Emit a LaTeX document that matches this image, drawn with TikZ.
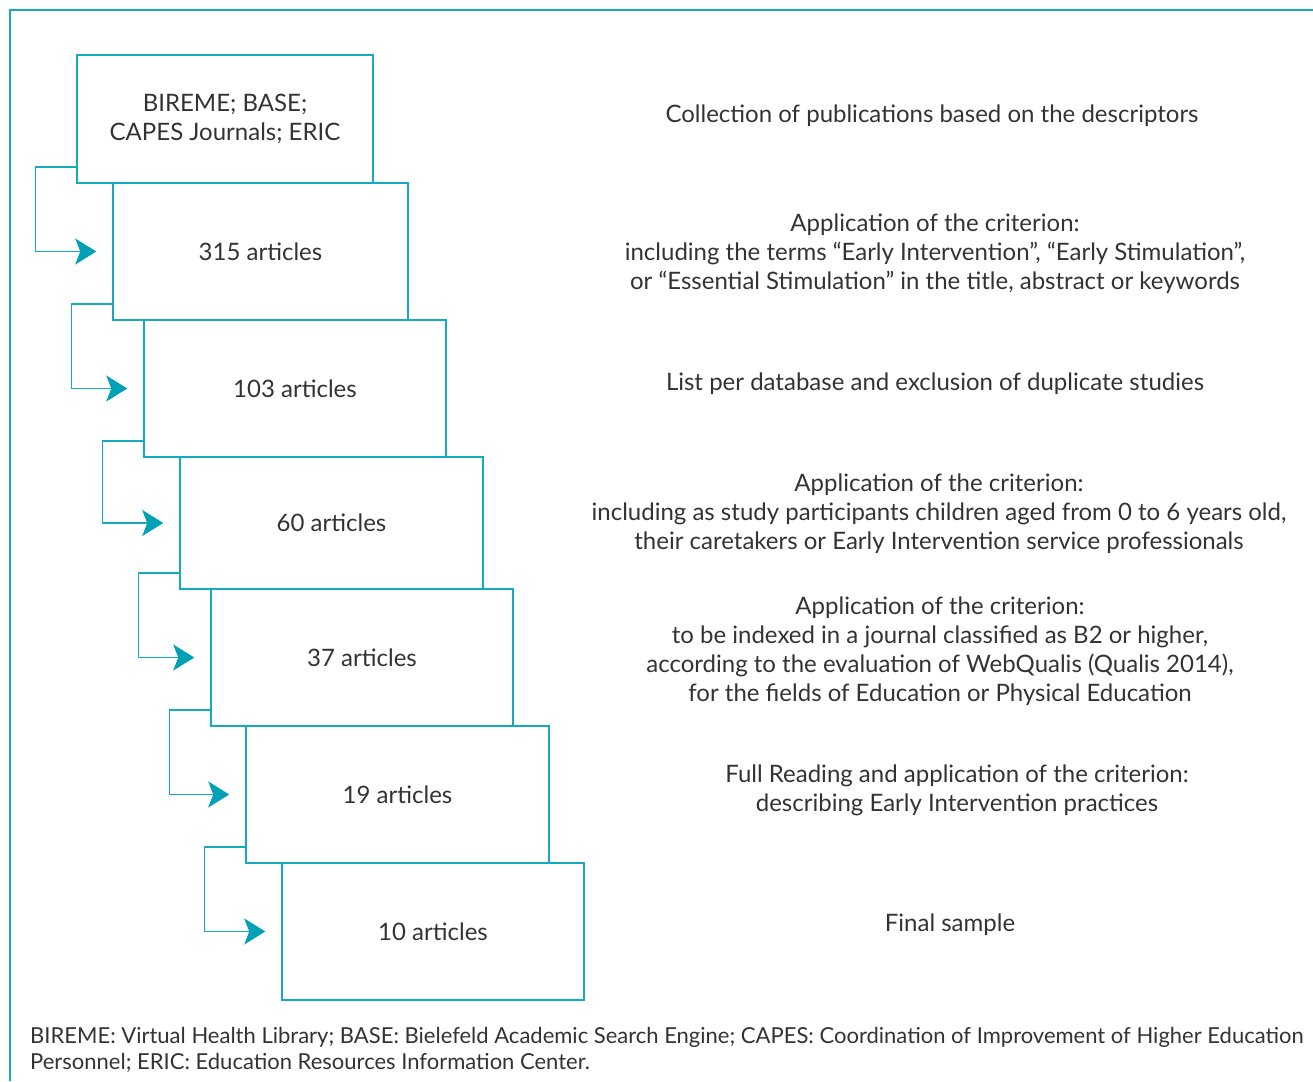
\documentclass[tikz,border=0pt]{standalone}
\usepackage{fontspec}
\setmainfont{Lato}
\usetikzlibrary{arrows.meta}
\definecolor{teal1}{RGB}{20,170,192}
\definecolor{teal2}{RGB}{0,160,182}
\definecolor{txt}{RGB}{51,51,51}
\begin{document}
\begin{tikzpicture}[x=1pt,y=1pt,
    box/.style={draw=teal1,line width=1.5pt,inner sep=0pt,text=txt,align=center,
        font=\fontsize{24}{29}\selectfont},
    note/.style={text=txt,align=center,font=\fontsize{24}{29}\selectfont},
    link/.style={draw=teal1,line width=1.5pt,
        -{Stealth[length=21pt,width=26pt,inset=5pt,fill=teal2,color=teal2]}}]
    \useasboundingbox (0,0) rectangle (1313,-1081);
    \draw[teal1,line width=2pt] (10,-1081) -- (10,-10) -- (1313,-10);
    % boxes
    \node[box,minimum width=296,minimum height=128] (b0) at (225,-119) {BIREME; BASE;\\CAPES Journals; ERIC};
    \node[box,minimum width=295,minimum height=137] (b1) at (260.5,-251.5) {315 articles};
    \node[box,minimum width=302,minimum height=137] (b2) at (295,-388.5) {103 articles};
    \node[box,minimum width=303,minimum height=132] (b3) at (331.5,-523) {60 articles};
    \node[box,minimum width=302,minimum height=137] (b4) at (362,-657.5) {37 articles};
    \node[box,minimum width=303,minimum height=137] (b5) at (397.5,-794.5) {19 articles};
    \node[box,minimum width=302,minimum height=137] (b6) at (433,-931.5) {10 articles};
    % arrows
    \draw[link] ([yshift=17]b0.south west) -- ++(-41,0) |- ([xshift=-16]b1.west);
    \draw[link] ([yshift=17]b1.south west) -- ++(-41,0) |- ([xshift=-16]b2.west);
    \draw[link] ([yshift=17]b2.south west) -- ++(-41,0) |- ([xshift=-16]b3.west);
    \draw[link] ([yshift=17]b3.south west) -- ++(-41,0) |- ([xshift=-16]b4.west);
    \draw[link] ([yshift=17]b4.south west) -- ++(-41,0) |- ([xshift=-16]b5.west);
    \draw[link] ([yshift=17]b5.south west) -- ++(-41,0) |- ([xshift=-16]b6.west);
    % steps
    \node[note] (t0) at (932,-116) {Collection of publications based on the descriptors};
    \node[note] (t1) at (935,-254) {Application of the criterion:\\including the terms “Early Intervention”, “Early Stimulation”,\\or “Essential Stimulation” in the title, abstract or keywords};
    \node[note] (t2) at (935,-384) {List per database and exclusion of duplicate studies};
    \node[note] (t3) at (939,-514) {Application of the criterion:\\including as study participants children aged from 0 to 6 years old,\\their caretakers or Early Intervention service professionals};
    \node[note] (t4) at (940,-651) {Application of the criterion:\\to be indexed in a journal classified as B2 or higher,\\according to the evaluation of WebQualis (Qualis 2014),\\for the fields of Education or Physical Education};
    \node[note] (t5) at (957,-790) {Full Reading and application of the criterion:\\describing Early Intervention practices};
    \node[note] (t6) at (950,-925) {Final sample};
    \node[text=txt,align=left,anchor=west,inner sep=0pt,font=\fontsize{22}{26}\selectfont] (fn) at (30,-1050)
        {BIREME: Virtual Health Library; BASE: Bielefeld Academic Search Engine; CAPES: Coordination of Improvement of Higher Education\\Personnel; ERIC: Education Resources Information Center.};
\end{tikzpicture}
\end{document}
